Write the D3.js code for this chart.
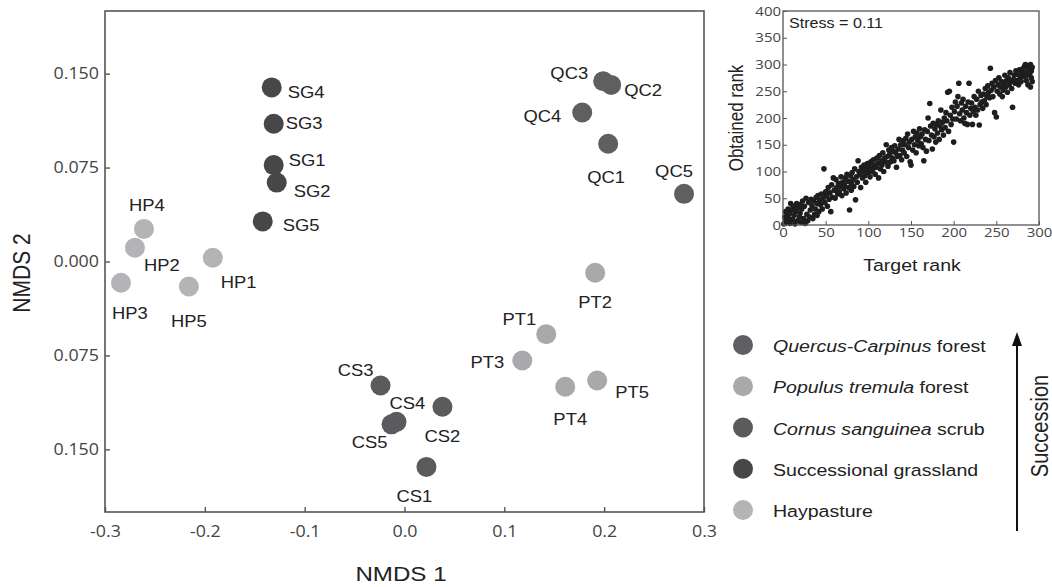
<!DOCTYPE html>
<html>
<head>
<meta charset="utf-8">
<script src="https://cdn.jsdelivr.net/npm/d3@7"></script>
<style>
  body { margin: 0; background: #fff; }
  svg { display: block; }
</style>
</head>
<body>
<svg id="chart" width="1052" height="587"></svg>
<script>
// NMDS site scores
const sites = ["QC1","QC2","QC3","QC4","QC5","PT1","PT2","PT3","PT4","PT5",
               "CS1","CS2","CS3","CS4","CS5","SG1","SG2","SG3","SG4","SG5",
               "HP1","HP2","HP3","HP4","HP5"];
const nmds1 = [0.204,0.207,0.199,0.178,0.280, 0.142,0.191,0.118,0.161,0.193,
               0.022,0.038,-0.024,-0.008,-0.013, -0.131,-0.128,-0.131,-0.133,-0.142,
               -0.192,-0.270,-0.284,-0.261,-0.216];
const nmds2 = [0.094,0.141,0.144,0.119,0.054, -0.058,-0.009,-0.079,-0.100,-0.095,
               -0.164,-0.116,-0.099,-0.128,-0.130, 0.077,0.063,0.110,0.139,0.032,
               0.003,0.011,-0.017,0.026,-0.020];
const siteGroup = ["QC","QC","QC","QC","QC","PT","PT","PT","PT","PT",
                   "CS","CS","CS","CS","CS","SG","SG","SG","SG","SG",
                   "HP","HP","HP","HP","HP"];

// legend
const groups = ["QC","PT","CS","SG","HP"];
const groupItalic = ["Quercus-Carpinus","Populus tremula","Cornus sanguinea","",""];
const groupPlain = [" forest"," forest"," scrub","Successional grassland","Haypasture"];

// axis ticks
const xTicks = [-0.3,-0.2,-0.1,0.0,0.1,0.2,0.3];
const yTicks = [-0.15,-0.075,0,0.075,0.15];
const insetXTicks = [0,50,100,150,200,250,300];
const insetYTicks = [0,50,100,150,200,250,300,350,400];
const stressText = "Stress = 0.11";

// Shepard plot: [target rank, obtained rank]
const shepard = [
  [1,2],[2,15],[3,8],[3,25],[4,5],[5,18],[6,30],[7,12],[8,3],[8,22],[9,40],[10,28],[11,10],[12,35],[13,18],[14,2],[14,30],[15,25],[16,40],[17,8],[18,32],[19,15],[20,38],[20,22],
  [21,5],[22,30],[23,45],[24,12],[25,35],[26,3],[27,50],[28,20],[29,8],[30,42],[31,15],[32,28],[33,48],[34,36],[35,12],[36,45],[37,20],[38,30],[39,52],[40,40],[40,18],
  [41,55],[42,25],[43,46],[44,38],[45,58],[46,30],[47,50],[48,105],[49,42],[50,62],[51,55],[52,35],[53,70],[54,48],[55,60],[56,25],[57,75],[58,52],[59,88],[60,65],
  [61,50],[62,85],[63,70],[64,58],[65,78],[66,62],[67,72],[68,90],[69,55],[70,80],[71,68],[72,75],[73,88],[74,60],[75,95],[76,82],[77,70],[78,28],[79,92],[80,78],[80,65],
  [81,98],[82,85],[83,72],[84,105],[85,47],[86,90],[87,80],[88,120],[89,100],[90,95],[91,70],[92,108],[93,88],[94,100],[95,112],[96,92],[97,80],[98,105],[99,115],[100,98],
  [101,110],[102,90],[103,118],[104,105],[105,100],[106,122],[107,112],[108,95],[109,108],[110,125],[111,115],[112,88],[113,130],[114,105],[115,120],[116,112],[117,135],[118,100],[119,125],[120,118],
  [121,150],[122,128],[123,110],[124,140],[125,132],[126,118],[127,145],[128,125],[129,138],[130,120],[131,148],[132,135],[133,108],[134,128],[135,142],[136,160],[137,130],[138,150],[139,122],[140,140],
  [141,158],[142,135],[143,150],[144,162],[145,128],[146,170],[147,145],[148,155],[149,118],[150,112],[151,160],[152,140],[153,175],[154,150],[155,165],[156,135],[157,172],[158,158],[159,148],[160,180],
  [161,165],[162,152],[163,170],[164,145],[165,120],[166,178],[167,160],[168,138],[169,175],[170,200],[171,158],[172,227],[173,185],[174,168],[175,142],[176,190],[177,165],[178,180],[179,155],[180,188],
  [181,172],[182,195],[183,160],[184,185],[185,215],[186,178],[187,192],[188,168],[189,200],[190,182],[191,210],[192,195],[193,248],[194,175],[195,250],[196,205],[197,188],[198,220],[199,198],[200,155],
  [201,212],[202,230],[203,198],[204,222],[205,240],[206,265],[207,208],[208,195],[209,228],[210,215],[211,235],[212,200],[213,190],[214,222],[215,210],[216,188],[217,230],[218,265],[219,205],[220,218],
  [221,228],[222,188],[223,212],[224,240],[225,220],[226,205],[227,235],[228,215],[229,250],[230,187],[231,225],[232,242],[233,230],[234,218],[235,245],[236,232],[237,255],[238,225],[239,240],[240,260],
  [241,248],[242,238],[243,293],[244,252],[245,265],[246,240],[247,258],[248,210],[249,270],[250,202],[251,250],[252,262],[253,275],[254,245],[255,258],[256,268],[257,240],[258,252],[259,265],[260,280],
  [261,258],[262,270],[263,248],[264,275],[265,262],[266,285],[267,268],[268,255],[269,220],[270,272],[271,280],[272,265],[273,288],[274,270],[275,282],[276,262],[277,290],[278,275],[279,268],[280,285],
  [281,292],[282,278],[283,296],[284,285],[285,270],[286,298],[287,262],[288,290],[289,282],[290,300],[291,288],[291,275],[292,295],[292,268],[290,258],[288,296],[286,280],[284,300]
];

// ---- styling / layout ----
const color = { QC: "#5f5f61", PT: "#a9a9ac", CS: "#5b5b5d", SG: "#47474a", HP: "#b4b4b7" };
const SX = 1.15; // text in the figure is a bit wider than tall
const tickFont = "'Open Sans', sans-serif";
const labelFont = "'Liberation Sans', Arial, sans-serif";

// label placement next to each point: [dx, dy, anchor]
const labelPos = {
  SG4: [16, 11, "start"], SG3: [12, 5, "start"], SG1: [15, 1, "start"], SG2: [17, 14, "start"], SG5: [20, 10, "start"],
  HP4: [3, -18, "middle"], HP2: [9, 23, "start"], HP1: [8, 30, "start"], HP3: [-9, 36, "start"], HP5: [0, 40, "middle"],
  QC3: [-15, -2, "end"], QC2: [13, 11, "start"], QC4: [-21, 10, "end"], QC1: [-2, 39, "middle"], QC5: [-10, -17, "middle"],
  PT2: [0, 35, "middle"], PT1: [-10, -9, "end"], PT3: [-18, 8, "end"], PT4: [5, 38, "middle"], PT5: [18, 18, "start"],
  CS3: [-7, -9, "end"], CS4: [-7, -13, "start"], CS2: [0, 35, "middle"], CS5: [-4, 24, "end"], CS1: [-12, 35, "middle"]
};

const svg = d3.select("#chart");
svg.append("rect").attr("width", 1052).attr("height", 587).attr("fill", "#fff");

// move x/y into a transform so the glyphs can be widened
function stretch(sel, extra) {
  sel.each(function() {
    const t = d3.select(this);
    const x = +t.attr("x") || 0, y = +t.attr("y") || 0;
    t.attr("x", 0).attr("y", 0)
      .attr("transform", `translate(${x},${y}) scale(${SX},1)` + (extra || ""));
  });
}

// ---- main NMDS plot ----
const x = d3.scaleLinear().domain([-0.3, 0.3]).range([105, 704]);
const y = d3.scaleLinear().domain([-0.2, 0.2]).range([512, 11]);

const main = svg.append("g");
main.append("rect")
  .attr("x", x(-0.3)).attr("y", y(0.2))
  .attr("width", x(0.3) - x(-0.3)).attr("height", y(-0.2) - y(0.2))
  .attr("fill", "none").attr("stroke", "#555").attr("stroke-width", 1.6);

const xAxis = main.append("g")
  .attr("transform", `translate(0,${y(-0.2)})`)
  .call(d3.axisBottom(x).tickValues(xTicks).tickSizeInner(-5).tickSizeOuter(0).tickPadding(14)
    .tickFormat(d => d3.format(".1f")(d).replace("−", "-")));
const yAxis = main.append("g")
  .attr("transform", `translate(${x(-0.3)},0)`)
  .call(d3.axisLeft(y).tickValues(yTicks).tickSizeInner(-5).tickSizeOuter(0).tickPadding(6)
    .tickFormat(d => Math.abs(d).toFixed(3)));
[xAxis, yAxis].forEach(a => {
  a.select(".domain").remove();
  a.selectAll(".tick line").attr("stroke", "#555").attr("stroke-width", 1.4);
  a.selectAll(".tick text").attr("fill", "#444").style("font-family", tickFont).style("font-size", "15.5px");
});
stretch(xAxis.selectAll(".tick text"));
stretch(yAxis.selectAll(".tick text"));

main.selectAll("circle.site")
  .data(sites)
  .join("circle")
  .attr("class", "site")
  .attr("cx", (d, i) => x(nmds1[i]))
  .attr("cy", (d, i) => y(nmds2[i]))
  .attr("r", 10)
  .attr("fill", (d, i) => color[siteGroup[i]]);

main.selectAll("text.site")
  .data(sites)
  .join("text")
  .attr("class", "site")
  .attr("x", (d, i) => x(nmds1[i]) + labelPos[d][0])
  .attr("y", (d, i) => y(nmds2[i]) + labelPos[d][1])
  .attr("text-anchor", d => labelPos[d][2])
  .style("font-family", labelFont).style("font-size", "16px").attr("fill", "#222")
  .text(d => d)
  .call(stretch);

main.append("text")
  .attr("x", 401).attr("y", 581)
  .attr("text-anchor", "middle")
  .style("font-family", labelFont).style("font-size", "21px").attr("fill", "#222")
  .text("NMDS 1").call(stretch);

main.append("text")
  .attr("x", 30).attr("y", 273)
  .attr("text-anchor", "middle")
  .style("font-family", labelFont).style("font-size", "21px").attr("fill", "#222")
  .text("NMDS 2").call(s => stretch(s, " rotate(-90)"));

// ---- Shepard inset ----
const ix = d3.scaleLinear().domain([0, 300]).range([783, 1039]);
const iy = d3.scaleLinear().domain([0, 400]).range([225, 11]);
const inset = svg.append("g");

inset.selectAll("circle")
  .data(shepard)
  .join("circle")
  .attr("cx", d => ix(d[0]))
  .attr("cy", d => iy(d[1]))
  .attr("r", 2.8)
  .attr("fill", "#1e1e1e");

inset.append("rect")
  .attr("x", ix(0)).attr("y", iy(400))
  .attr("width", ix(300) - ix(0)).attr("height", iy(0) - iy(400))
  .attr("fill", "none").attr("stroke", "#555").attr("stroke-width", 1.3);

const ixAxis = inset.append("g")
  .attr("transform", `translate(0,${iy(0)})`)
  .call(d3.axisBottom(ix).tickValues(insetXTicks).tickSizeInner(-4).tickSizeOuter(0).tickPadding(3));
const iyAxis = inset.append("g")
  .attr("transform", `translate(${ix(0)},0)`)
  .call(d3.axisLeft(iy).tickValues(insetYTicks).tickSizeInner(-4).tickSizeOuter(0).tickPadding(2));
[ixAxis, iyAxis].forEach(a => {
  a.select(".domain").remove();
  a.selectAll(".tick line").attr("stroke", "#555");
  a.selectAll(".tick text").attr("fill", "#444").style("font-family", tickFont).style("font-size", "13px");
});
stretch(ixAxis.selectAll(".tick text"));
stretch(iyAxis.selectAll(".tick text"));

inset.append("text")
  .attr("x", 789).attr("y", 28)
  .style("font-family", labelFont).style("font-size", "14px").attr("fill", "#222")
  .text(stressText).call(stretch);

inset.append("text")
  .attr("x", 912).attr("y", 271)
  .attr("text-anchor", "middle")
  .style("font-family", labelFont).style("font-size", "17px").attr("fill", "#222")
  .text("Target rank").call(stretch);

inset.append("text")
  .attr("x", 743).attr("y", 118)
  .attr("text-anchor", "middle")
  .style("font-family", labelFont).style("font-size", "17px").attr("fill", "#222")
  .text("Obtained rank").call(s => stretch(s, " rotate(-90)"));

// ---- legend ----
const legendY = d3.scalePoint().domain(groups).range([345, 510]);
const legend = svg.append("g");
legend.selectAll("circle")
  .data(groups)
  .join("circle")
  .attr("cx", 743)
  .attr("cy", d => legendY(d))
  .attr("r", 10)
  .attr("fill", d => color[d]);

const lt = legend.selectAll("text")
  .data(groups)
  .join("text")
  .attr("x", 773)
  .attr("y", d => legendY(d) + 7)
  .style("font-family", labelFont).style("font-size", "17px").attr("fill", "#222");
lt.append("tspan").style("font-style", "italic").text((d, i) => groupItalic[i]);
lt.append("tspan").text((d, i) => groupPlain[i]);
stretch(lt);

// succession arrow
legend.append("line")
  .attr("x1", 1017).attr("x2", 1017)
  .attr("y1", 531).attr("y2", 342)
  .attr("stroke", "#111").attr("stroke-width", 2);
legend.append("path")
  .attr("d", "M1017,332 L1022,346 L1012,346 Z")
  .attr("fill", "#111");
legend.append("text")
  .attr("x", 1048).attr("y", 426)
  .attr("text-anchor", "middle")
  .style("font-family", labelFont).style("font-size", "20px").attr("fill", "#222")
  .text("Succession").call(s => stretch(s, " rotate(-90)"));
</script>
</body>
</html>
